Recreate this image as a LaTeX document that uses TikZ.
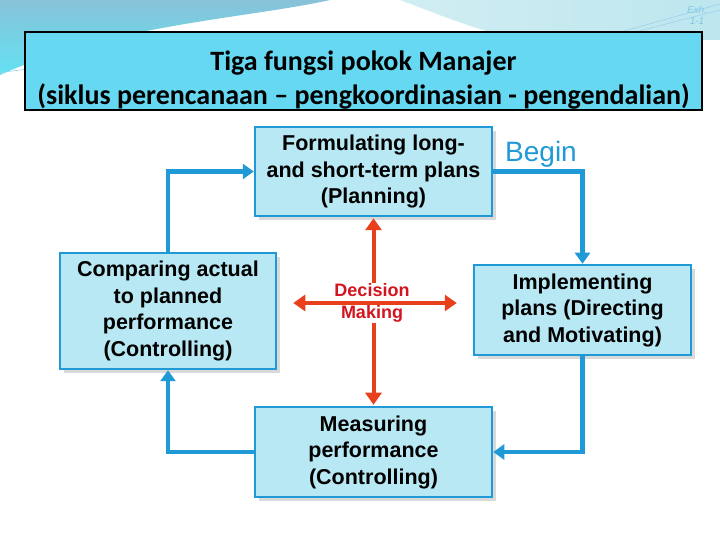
\documentclass[tikz,border=0pt]{standalone}
\usepackage{fontspec}
\setmainfont{Liberation Sans}
\newfontfamily\titlefont{Carlito}
\usepackage{xcolor}
\usetikzlibrary{arrows.meta,positioning,shadows}
\definecolor{cycblue}{HTML}{1F9AD6}
\definecolor{boxfill}{HTML}{B8E8F3}
\definecolor{headfill}{HTML}{66D8F2}
\definecolor{decred}{HTML}{E8401C}
\definecolor{dectext}{HTML}{D4141E}
\definecolor{bgsteel}{HTML}{88C2D8}
\definecolor{bgcyan}{HTML}{62E2F2}
\definecolor{bglight}{HTML}{BDE6EE}

\begin{document}
\begin{tikzpicture}[x=1pt,y=1pt,>=Triangle,
 b/.style={draw=cycblue,line width=2.5pt,fill=boxfill,align=center,font=\fontsize{21.5}{26.5}\selectfont\bfseries,
  drop shadow={shadow xshift=4pt,shadow yshift=-4pt,fill=gray!30,opacity=1}},
 a/.style={->,draw=cycblue,line width=4.5pt,-{Triangle[length=11pt,width=15pt]}},
 r/.style={draw=decred,line width=4pt,{Triangle[length=12pt,width=16pt]}-{Triangle[length=12pt,width=16pt]}}]
 \useasboundingbox (0,0) rectangle (720,540);
 % background swoosh
 \shade[top color=bgsteel,bottom color=bgcyan] (0,540) -- (330,540) .. controls (250,522) and (110,515) .. (0,465) -- cycle;
 \shade[left color=bglight!70,right color=bglight] (400,540) -- (720,540) -- (720,500) -- (520,500) .. controls (470,512) and (440,525) .. (400,540) -- cycle;
 \draw[cycblue!45,line width=0.6pt] (0,467) .. controls (10,469) and (20,470) .. (30,471);
 \draw[cycblue!45,line width=0.6pt] (720,536) -- (610,505);
 \draw[cycblue!45,line width=0.6pt] (720,530) -- (620,504);
 \node[font=\fontsize{10}{12}\selectfont\itshape,text=cycblue!55,inner sep=0pt] (exh) at (697,530) {Exh.};
 \node[font=\fontsize{10}{12}\selectfont\itshape,text=cycblue!55,inner sep=0pt,below=4pt of exh] (exhn) {1-1};
 % title
 \node[draw=black,line width=1.2pt,fill=headfill,minimum width=677pt,minimum height=78pt] (head) at (363.5,469) {};
 \node[align=center,font=\titlefont\fontsize{28}{34}\selectfont\bfseries] (title) at ([yshift=-9pt]head.center) {Tiga fungsi pokok Manajer\\(siklus perencanaan – pengkoordinasian - pengendalian)};
 % cycle boxes
 \node[b,minimum width=237pt,minimum height=89pt] (plan) at (373.5,368.5) {Formulating long-\\and short-term plans\\(Planning)};
 \node[b,minimum width=217pt,minimum height=90pt] (impl) at (582.5,230) {Implementing\\plans (Directing\\and Motivating)};
 \node[b,minimum width=237pt,minimum height=90pt] (meas) at (373.5,88) {Measuring\\performance\\(Controlling)};
 \node[b,minimum width=216pt,minimum height=116pt] (comp) at (168,229) {Comparing actual\\to planned\\performance\\(Controlling)};
 \node[font=\fontsize{28}{30}\selectfont,text=cycblue] (begin) at (541,386) {Begin};
 % cycle arrows
 \draw[a] (plan.east) -| (impl.north);
 \draw[a] (impl.south) |- (meas.east);
 \draw[a] (meas.west) -| (comp.south);
 \draw[a] (comp.north) |- (plan.west);
 % decision making
 \draw[r,shorten <=1pt,shorten >=1pt] (plan.south) -- (meas.north);
 \node[fill=white,inner sep=1pt,align=center,text=dectext,font=\fontsize{18}{22}\selectfont\bfseries] (dec) at (372,237) {Decision\\Making};
 \draw[r,shorten <=16pt,shorten >=16pt] (comp.east |- dec) -- (impl.west |- dec);
\end{tikzpicture}
\end{document}
